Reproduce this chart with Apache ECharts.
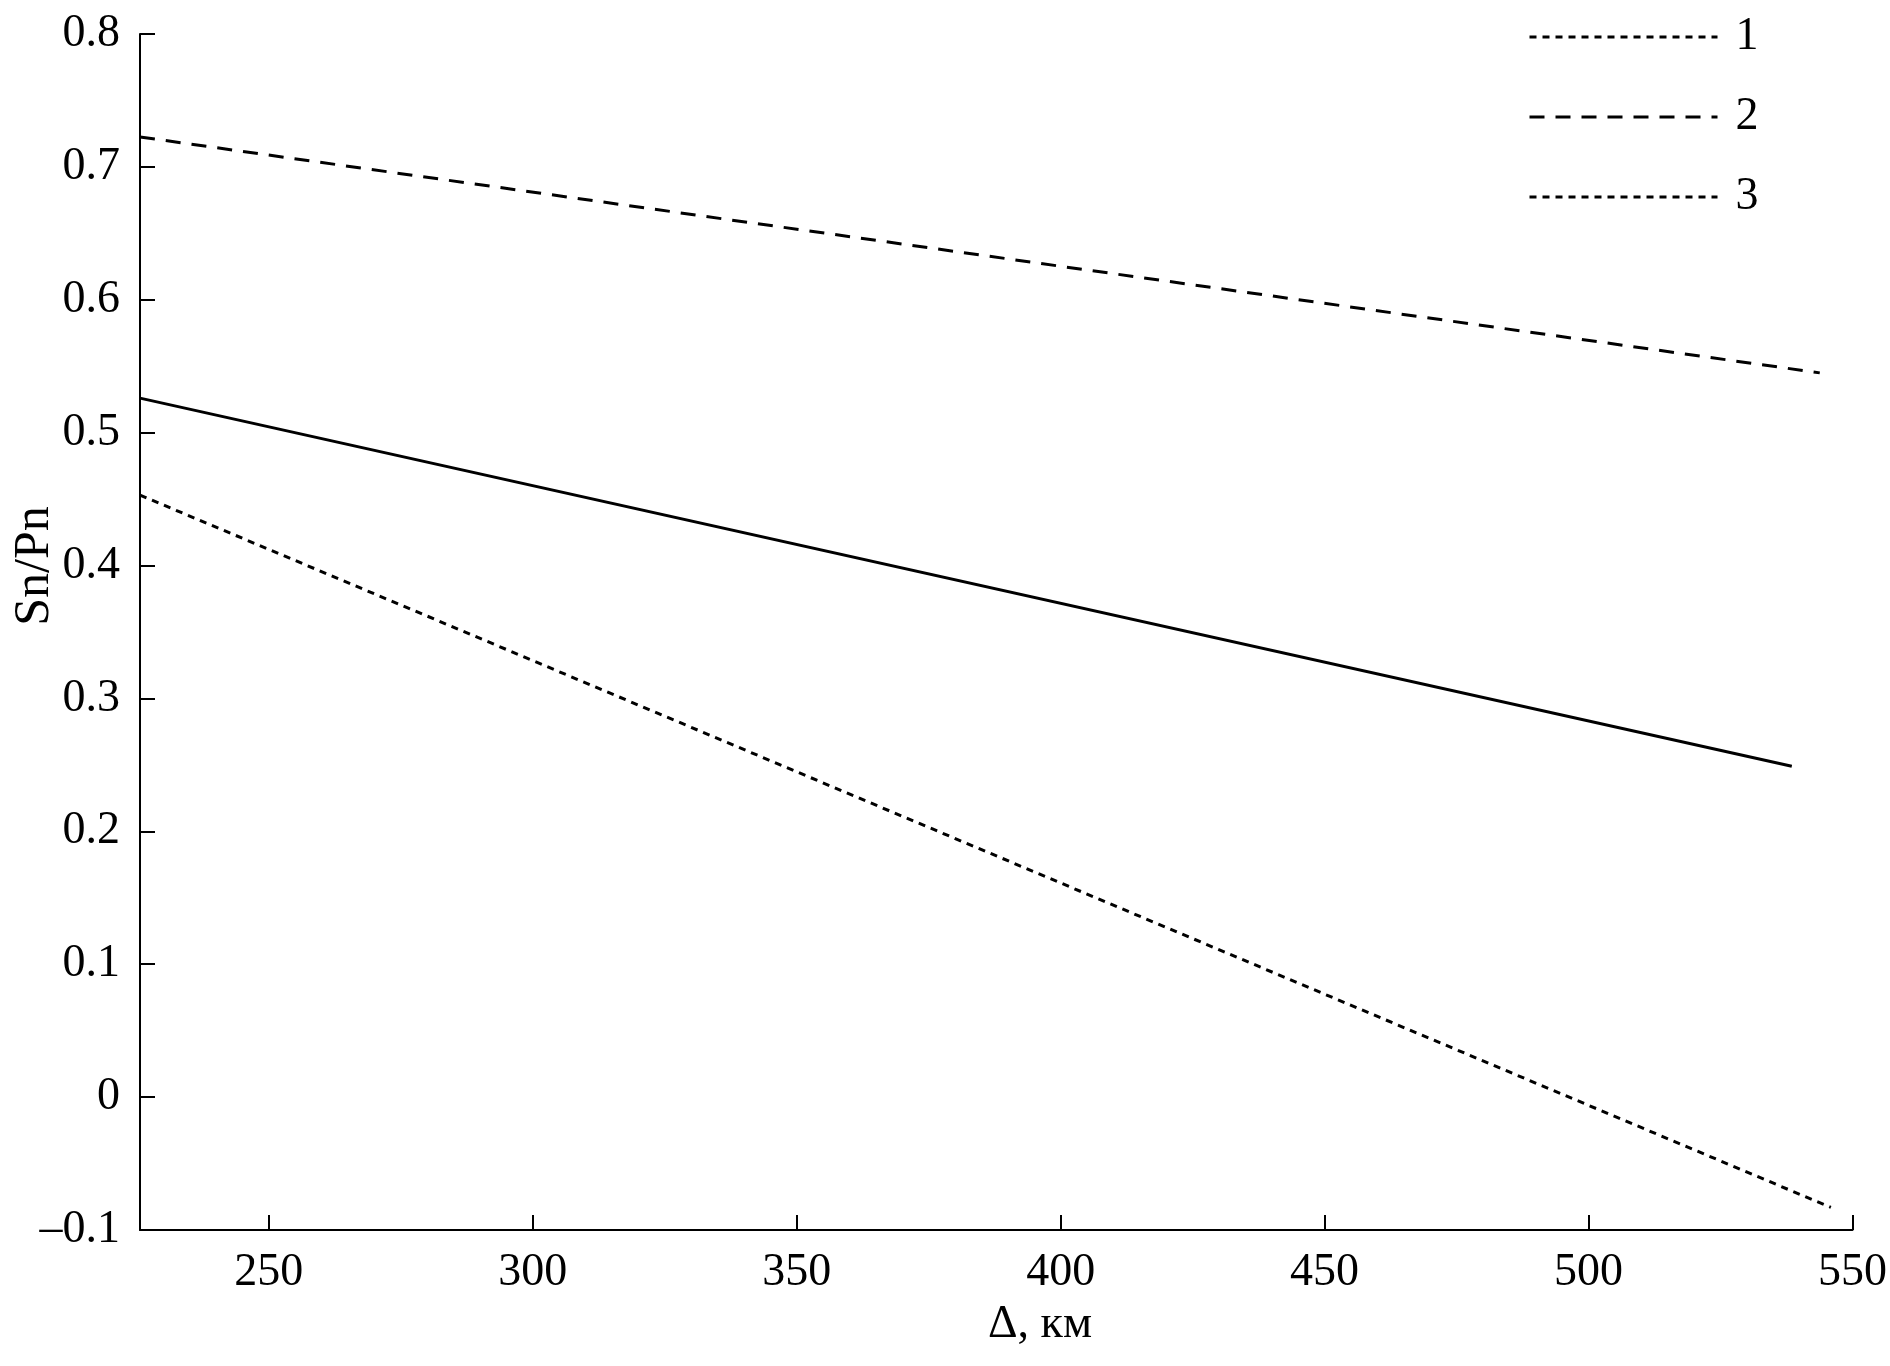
<!DOCTYPE html>
<html>
<head>
<meta charset="utf-8">
<script src="https://cdn.jsdelivr.net/npm/echarts@6/dist/echarts.min.js"></script>
<style>html,body{margin:0;padding:0;background:#fff}#c{width:1890px;height:1366px}</style>
</head>
<body>
<div id="c"></div>
<script>
const seriesNames = ['1', '2', '3'];
const line1 = [[225.6, 0.526], [538.5, 0.249]];
const line2 = [[225.6, 0.7225], [543.8, 0.545]];
const line3 = [[225.6, 0.453], [545.9, -0.083]];
const xTicks = [250, 300, 350, 400, 450, 500, 550];
const yTicks = [-0.1, 0, 0.1, 0.2, 0.3, 0.4, 0.5, 0.6, 0.7, 0.8];
const xName = 'Δ, км';
const yName = 'Sn/Pn';

const FONT = '"Liberation Serif", "DejaVu Serif", serif';
const chart = echarts.init(document.getElementById('c'));
const fmtY = v => {
  const r = Math.round(v * 10) / 10;
  return r === 0 ? '0' : String(r).replace('-', '–');
};
chart.setOption({
  animation: false,
  backgroundColor: '#fff',
  grid: {left: 140, top: 34, right: 34, bottom: 136, containLabel: false},
  xAxis: {
    type: 'value', min: 225.6, max: 550,
    axisLine: {show: true, onZero: false, lineStyle: {color: '#000', width: 2}},
    axisTick: {show: true, inside: true, length: 15, customValues: xTicks, lineStyle: {color: '#000', width: 2}},
    splitLine: {show: false},
    axisLabel: {color: '#000', fontFamily: FONT, fontSize: 46, margin: 20, customValues: xTicks, formatter: v => String(v)}
  },
  yAxis: {
    type: 'value', min: -0.1, max: 0.8,
    axisLine: {show: true, onZero: false, lineStyle: {color: '#000', width: 2}},
    axisTick: {show: true, inside: true, length: 15, customValues: yTicks, lineStyle: {color: '#000', width: 2}},
    splitLine: {show: false},
    axisLabel: {color: '#000', fontFamily: FONT, fontSize: 46, margin: 20, customValues: yTicks, formatter: fmtY}
  },
  legend: {
    orient: 'vertical',
    left: 1528, top: 14, padding: 0,
    itemWidth: 188, itemHeight: 46, itemGap: 34,
    itemStyle: {opacity: 0},
    textStyle: {color: '#000', fontFamily: FONT, fontSize: 46, lineHeight: 46, padding: [0, 0, 0, 13]},
    data: [
      {name: '1', lineStyle: {type: [7, 6], width: 3, color: '#000'}},
      {name: '2', lineStyle: {type: [15, 11], width: 3, color: '#000'}},
      {name: '3', lineStyle: {type: [7, 6], width: 3, color: '#000'}}
    ]
  },
  graphic: [
    {type: 'text', x: 1040, y: 1302, style: {text: xName, font: '46px ' + FONT, fill: '#000', align: 'center', verticalAlign: 'top'}},
    {type: 'text', x: 10, y: 566, rotation: Math.PI / 2, style: {text: yName, font: '50px ' + FONT, fill: '#000', align: 'center', verticalAlign: 'top'}}
  ],
  series: [
    {name: seriesNames[0], type: 'line', data: line1, symbol: 'none', lineStyle: {color: '#000', width: 3, type: 'solid'}},
    {name: seriesNames[1], type: 'line', data: line2, symbol: 'none', lineStyle: {color: '#000', width: 3, type: [15, 11]}},
    {name: seriesNames[2], type: 'line', data: line3, symbol: 'none', lineStyle: {color: '#000', width: 3, type: [7, 6]}}
  ]
});
</script>
</body>
</html>
